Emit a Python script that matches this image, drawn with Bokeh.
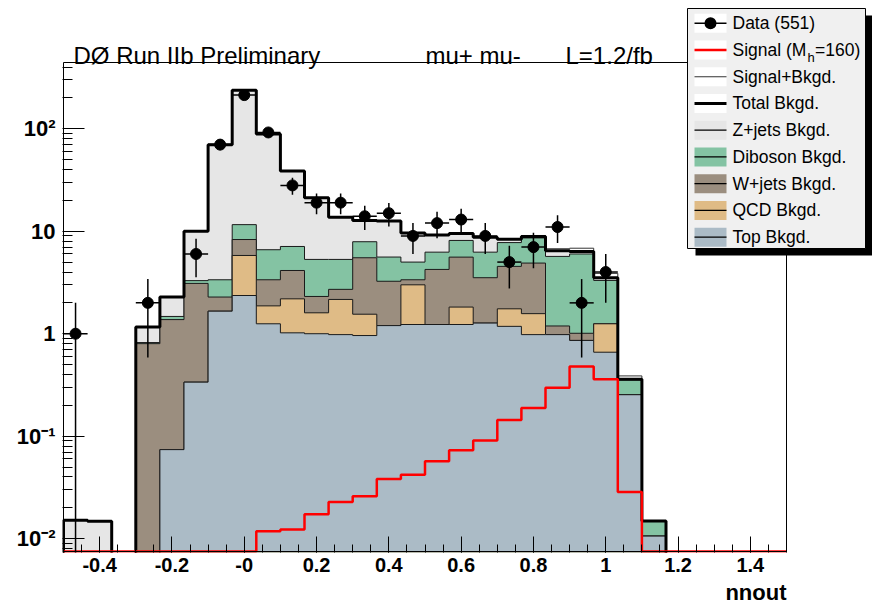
import numpy as np
from bokeh.plotting import figure
from bokeh.models import FixedTicker, Label, BoxAnnotation
from bokeh.embed import file_html
from bokeh.resources import INLINE

# ---- binning of the nnout histogram ----
x_lo, x_hi, n_bins = -0.5, 1.5, 30
edges = np.linspace(x_lo, x_hi, n_bins + 1)
centers = 0.5 * (edges[:-1] + edges[1:])

# ---- expected events per bin, one array per background process ----
top_bkg = [0, 0, 0, 0, 0.074, 0.337, 1.66, 2.36, 1.25, 1.02,
           1.0, 0.98, 0.96, 1.2, 1.23, 1.23, 1.23, 1.27, 1.18, 0.98,
           0.98, 0.86, 0.66, 0.254, 0.0106, 0, 0, 0, 0, 0]
qcd_bkg = [0, 0, 0, 0, 0, 0, 0, 3.44, 0.62, 1.17,
           0.6, 1.18, 0.59, 0, 1.77, 0, 0.59, 0, 0.57, 0.59,
           0, 0, 0.59, 0, 0, 0, 0, 0, 0, 0]
wjets_bkg = [0, 0, 0, 0.80, 1.30, 2.76, 0.62, 2.5, 1.49, 1.95,
             0.71, 0.55, 3.96, 2.05, 0.36, 3.01, 3.77, 2.25, 2.79, 3.32,
             0.21, 0.15, 0, 0, 0, 0, 0, 0, 0, 0]
diboson_bkg = [0, 0, 0, 0.02, 0.10, 0.2, 1.08, 3.3, 3.24, 2.96,
               3.0, 2.6, 2.39, 2.35, 1.64, 2.01, 2.54, 2.73, 3.21, 3.71,
               4.49, 4.99, 2.06, 0.10, 0.0043, 0, 0, 0, 0, 0]
zjets_bkg = [0.0151, 0.0148, 0, 0.34, 0.81, 6.7, 66.6, 225.4, 82.4, 31.5,
             15.9, 8.4, 4.8, 7.0, 4.6, 2.95, 1.37, 2.5, 0.6, 0.3,
             0.77, 0.35, 0.21, 0.005, 0, 0, 0, 0, 0, 0]
signal_mh160 = [0, 0, 0, 0, 0, 0, 0, 0, 0.0118, 0.0123,
                0.0173, 0.0228, 0.0259, 0.0382, 0.042, 0.057, 0.073, 0.091, 0.144, 0.188,
                0.297, 0.48, 0.36, 0.0285, 0, 0, 0, 0, 0, 0]
data_counts = [1, 0, 0, 2, 0, 6, 70, 213, 92, 28,
               19, 19, 14, 15, 9, 12, 13, 9, 5, 7,
               11, 2, 4, 0, 0, 0, 0, 0, 0, 0]

# ---- axis ticks ----
x_tick_values = [-0.4, -0.2, 0.0, 0.2, 0.4, 0.6, 0.8, 1.0, 1.2, 1.4]
x_tick_labels = ["-0.4", "-0.2", "-0", "0.2", "0.4", "0.6", "0.8", "1", "1.2", "1.4"]
y_tick_values = [0.01, 0.1, 1, 10, 100]
y_tick_labels = ["10\u207b\u00b2", "10\u207b\u00b9", "1", "10", "10\u00b2"]

# ---- page geometry ----
Y0, Y1 = 0.0075, 443.0                  # visible y limits of the histogram frame
W, H = 872, 605
FL, FR, FT, FB = 63, 786, 62, 551       # histogram frame in page pixels
BL, BR, BT, BB = 62, W, 0, 552          # bokeh drawing area (frame + room for legend/header)
FONT = "Liberation Sans"


def data_x(px):
    return x_lo + (px - FL) / (FR - FL) * (x_hi - x_lo)


def data_y(py):
    a, b = np.log10(Y0), np.log10(Y1)
    return 10 ** (a + (FB - py) / (FB - FT) * (b - a))


def step_outline(vals, floor):
    v = np.asarray(vals, dtype=float)
    v = np.where(v > 0, v, floor)
    xs = np.concatenate([[edges[0]], np.repeat(edges, 2)[1:-1], [edges[-1]]])
    ys = np.concatenate([[floor], np.repeat(v, 2), [floor]])
    return xs, ys


p = figure(frame_width=BR - BL, frame_height=BB - BT,
           min_border_left=BL, min_border_right=W - BR,
           min_border_top=BT, min_border_bottom=H - BB,
           x_range=(data_x(BL), data_x(BR)), y_range=(data_y(BB), data_y(BT)),
           y_axis_type="log", output_backend="svg", toolbar_location=None)
p.xgrid.visible = False
p.ygrid.visible = False
p.background_fill_color = "white"
p.border_fill_color = "white"
p.outline_line_color = None

# ---- stacked backgrounds ----
components = [np.array(top_bkg), np.array(qcd_bkg), np.array(wjets_bkg),
              np.array(diboson_bkg), np.array(zjets_bkg)]
levels = np.cumsum(components, axis=0)
total = levels[-1]
signal = np.array(signal_mh160)

FLOOR = 1e-4
fills = ["#abbbc6", "#dfbb86", "#9b8e7f", "#84c3a3", "#e6e6e6"]

# signal + background (white fill, thin outline)
xs, ys = step_outline(total + signal, FLOOR)
p.patch(xs, ys, fill_color="white", line_color="#333333", line_width=1)

for lev, col in zip(levels[::-1], fills[::-1]):
    xs, ys = step_outline(lev, FLOOR)
    p.patch(xs, ys, fill_color=col, line_color="#1a1a1a", line_width=1)

# total background
xs, ys = step_outline(total, FLOOR)
p.line(xs, ys, line_color="black", line_width=3)

# signal
xs, ys = step_outline(signal, Y0)
p.line(xs, ys, line_color="#ff0000", line_width=2.5)

# ---- data with Poisson errors ----
dc = np.array(data_counts, dtype=float)
sel = dc > 0
xc = centers[sel]
yc = dc[sel]
err = np.sqrt(yc)
half = 0.5 * (edges[1] - edges[0])
p.segment(x0=xc - half, y0=yc, x1=xc + half, y1=yc, line_color="black", line_width=1.5)
p.segment(x0=xc, y0=np.maximum(yc - err, FLOOR), x1=xc, y1=yc + err,
          line_color="black", line_width=1.5)
p.scatter(xc, yc, marker="circle", size=11, fill_color="black", line_color="black")

# histogram frame
p.add_layout(BoxAnnotation(left=x_lo, right=x_hi, bottom=Y0, top=Y1,
                           fill_alpha=0, line_color="black", line_alpha=1, line_width=1))

# ---- axes ----
minor_x = [round(v, 2) for v in np.arange(x_lo, x_hi + 1e-9, 0.05)]
p.xaxis.ticker = FixedTicker(ticks=x_tick_values, minor_ticks=minor_x)
p.xaxis.major_label_overrides = {v: s for v, s in zip(x_tick_values, x_tick_labels)}
p.xaxis.major_tick_in = 16
p.xaxis.major_tick_out = 0
p.xaxis.minor_tick_in = 8
p.xaxis.minor_tick_out = 0
p.xaxis.major_label_text_font = FONT
p.xaxis.major_label_text_font_style = "bold"
p.xaxis.major_label_text_font_size = "20px"
p.xaxis.major_label_text_color = "black"
p.xaxis.major_label_standoff = 5
p.xaxis.axis_line_color = None
p.xaxis.major_tick_line_color = "black"
p.xaxis.minor_tick_line_color = "black"

minor_y = [k * 10.0 ** d for d in range(-3, 3) for k in range(2, 10) if k * 10.0 ** d <= Y1]
p.yaxis.ticker = FixedTicker(ticks=y_tick_values, minor_ticks=minor_y)
p.yaxis.major_label_overrides = {v: s for v, s in zip(y_tick_values, y_tick_labels)}
p.yaxis.major_tick_in = 22
p.yaxis.major_tick_out = 0
p.yaxis.minor_tick_in = 10
p.yaxis.minor_tick_out = 0
p.yaxis.major_label_text_font = FONT
p.yaxis.major_label_text_font_style = "bold"
p.yaxis.major_label_text_font_size = "22px"
p.yaxis.major_label_text_color = "black"
p.yaxis.major_label_standoff = 7
p.yaxis.axis_line_color = None
p.yaxis.major_tick_line_color = "black"
p.yaxis.minor_tick_line_color = "black"

# x axis title, right aligned under the frame
p.add_layout(Label(x=x_hi, y=Y0, text="nnout", y_offset=-41,
                   text_align="right", text_baseline="alphabetic",
                   text_font=FONT, text_font_style="bold",
                   text_font_size="22px", text_color="black"), "below")

# header texts
for txt, dx in [("DØ Run IIb Preliminary", 10), ("mu+ mu-", 362), ("L=1.2/fb", 502)]:
    p.add_layout(Label(x=x_lo, y=Y1, text=txt, x_offset=dx, y_offset=7,
                       text_align="left", text_baseline="alphabetic",
                       text_font=FONT, text_font_size="24px", text_color="black"))

# ---- legend ----
def box(l, r, t, b, **kw):
    props = dict(fill_alpha=1.0, line_alpha=0.0)
    props.update(kw)
    return BoxAnnotation(left=data_x(l), right=data_x(r), top=data_y(t), bottom=data_y(b), **props)

p.add_layout(box(695, 872, 15, 255, fill_color="black"))
p.add_layout(box(687, 865, 8, 248, fill_color="#f0f0f0", line_color="black", line_alpha=1.0, line_width=1))

legend_rows = [
    ("Data (551)", "white", "black", 1.5),
    ("Signal (M", "white", "#ff0000", 2.5),
    ("Signal+Bkgd.", "white", "#333333", 1.0),
    ("Total Bkgd.", "white", "black", 3.0),
    ("Z+jets Bkgd.", fills[4], "black", 1.2),
    ("Diboson Bkgd.", fills[3], "black", 1.2),
    ("W+jets Bkgd.", fills[2], "black", 1.2),
    ("QCD Bkgd.", fills[1], "black", 1.2),
    ("Top Bkgd.", fills[0], "black", 1.2),
]
SW_L, SW_R, TXT_X = 694, 726, 732
LEG_FONT = "17.5px"
for i, (lab, fcol, lcol, lw) in enumerate(legend_rows):
    cy = 22.7 + i * 26.75
    p.add_layout(box(SW_L, SW_R, cy - 9.5, cy + 9.5, fill_color=fcol))
    p.add_layout(box(SW_L, SW_R, cy - lw / 2, cy + lw / 2, fill_color=lcol))
    if i == 0:
        p.add_layout(box(SW_L + 10, SW_L + 22, cy - 6, cy + 6,
                         fill_color="black", border_radius=6))
    p.add_layout(Label(x=data_x(TXT_X), y=data_y(cy), text=lab,
                       text_align="left", text_baseline="middle",
                       text_font=FONT, text_font_size=LEG_FONT, text_color="black"))
    if i == 1:
        p.add_layout(Label(x=data_x(807), y=data_y(cy + 8), text="h",
                           text_align="left", text_baseline="middle",
                           text_font=FONT, text_font_size="13px", text_color="black"))
        p.add_layout(Label(x=data_x(814.5), y=data_y(cy), text="=160)",
                           text_align="left", text_baseline="middle",
                           text_font=FONT, text_font_size=LEG_FONT, text_color="black"))

open("out.html", "w").write(file_html(p, INLINE))
